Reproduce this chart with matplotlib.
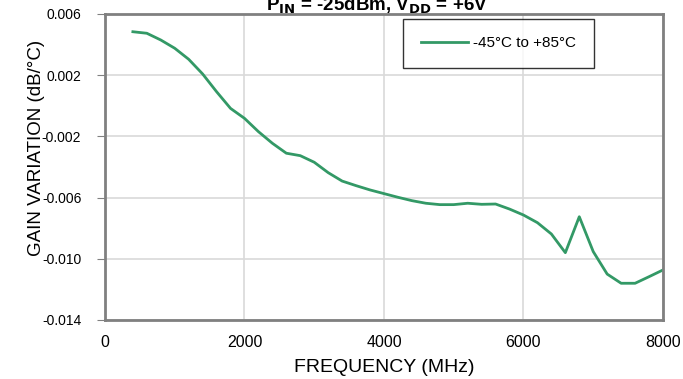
import matplotlib
matplotlib.use("Agg")
from matplotlib import pyplot as plt

# Frequency (MHz) and gain variation (dB/degC)
freq = [400, 600, 800, 1000, 1200, 1400, 1600, 1800, 2000, 2200, 2400, 2600,
        2800, 3000, 3200, 3400, 3600, 3800, 4000, 4200, 4400, 4600, 4800, 5000,
        5200, 5400, 5600, 5800, 6000, 6200, 6400, 6600, 6800, 7000, 7200, 7400,
        7600, 7800, 8000]
gain_var = [0.00484, 0.00474, 0.0043, 0.00376, 0.00304, 0.00208, 0.00092,
            -0.00017, -0.00082, -0.00169, -0.00245, -0.0031, -0.00326,
            -0.00369, -0.00437, -0.00492, -0.00522, -0.0055, -0.00574,
            -0.00598, -0.0062, -0.00637, -0.00646, -0.00646, -0.00637,
            -0.00644, -0.00642, -0.00675, -0.00714, -0.00764, -0.00838,
            -0.0096, -0.00725, -0.00953, -0.011, -0.0116, -0.0116, -0.01117,
            -0.01073]

x_ticks = [0, 2000, 4000, 6000, 8000]
y_ticks = [0.006, 0.002, -0.002, -0.006, -0.010, -0.014]
y_labels = ["0.006", "0.002", "-0.002", "-0.006", "-0.010", "-0.014"]
series_label = "-45°C to +85°C"

plt.rcParams['font.family'] = ['Liberation Sans', 'DejaVu Sans']

fig = plt.figure(figsize=(6.83, 3.79), dpi=100)
ax = fig.add_axes([0.1537, 0.1557, 0.817, 0.8074])

ax.plot(freq, gain_var, color='#339966', linewidth=2, label=series_label)

ax.set_xlim(0, 8000)
ax.set_ylim(-0.014, 0.006)
ax.set_xticks(x_ticks)
ax.set_yticks(y_ticks)
ax.set_yticklabels(y_labels)
ax.grid(True, color='#d9d9d9', linewidth=1.2)
ax.set_axisbelow(True)

for side in ax.spines.values():
    side.set_color('#808080')
    side.set_linewidth(2)

ax.tick_params(axis='y', length=6, color='#808080', labelsize=10, pad=11)
ax.tick_params(axis='x', length=0, labelsize=11.5, pad=11)

ax.set_xlabel('FREQUENCY (MHz)', fontsize=14, labelpad=6)
# y label sits a bit above the axes centre in the reference
fig.text(37 / 683, 1 - 147.5 / 379, 'GAIN VARIATION (dB/°C)', rotation=90,
         ha='center', va='center', fontsize=13.5)

fig.text(0.552, 0.985, r'P$_{\mathbf{IN}}$ = -25dBm, V$_{\mathbf{DD}}$ = +6V',
         ha='center', va='center', fontsize=13.5, fontweight='bold')

leg = ax.legend(loc='upper left', bbox_to_anchor=(0.534, 0.984), fontsize=11,
                frameon=True, fancybox=False, handlelength=3.1,
                borderpad=1.15, handletextpad=0.35, borderaxespad=0)
leg.get_frame().set_edgecolor('black')
leg.get_frame().set_linewidth(1)

fig.savefig('out.png', dpi=100)
